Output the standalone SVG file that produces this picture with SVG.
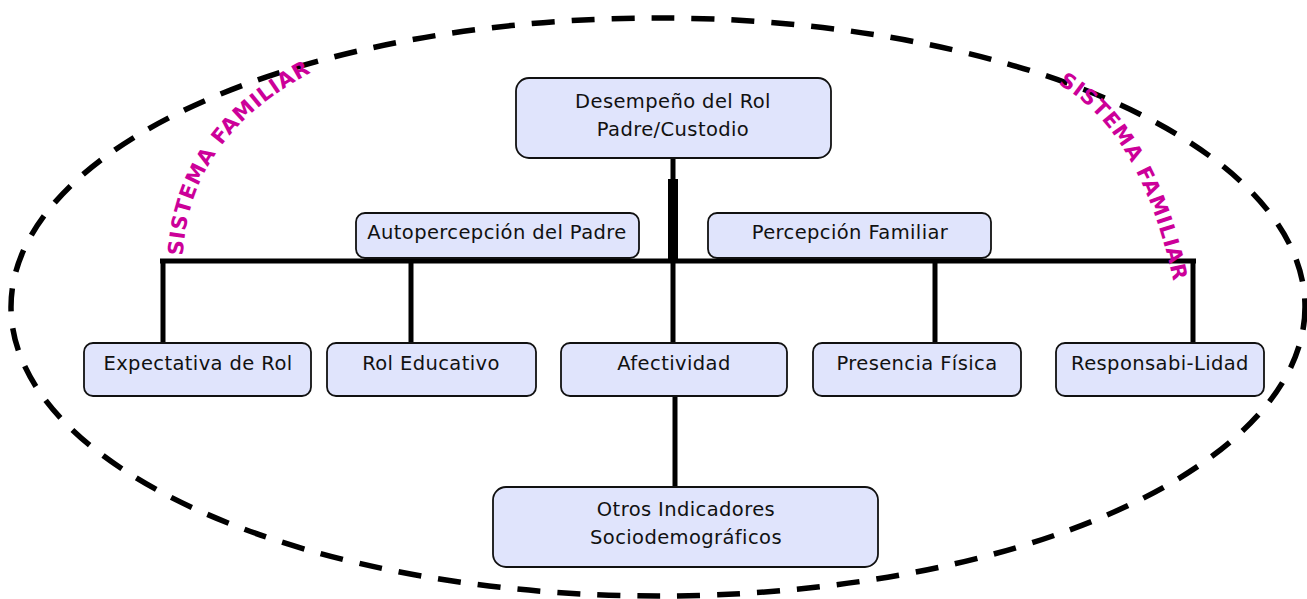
<svg xmlns="http://www.w3.org/2000/svg" width="1307" height="599" viewBox="0 0 1307 599">
<style>
.box{fill:#e0e4fc;stroke:#111;stroke-width:1.8}
.t{font-family:"DejaVu Sans",Verdana,sans-serif;font-size:19.5px;letter-spacing:0.4px;fill:#111;text-anchor:middle}
.c{stroke:#000;stroke-width:5;fill:none}
.sf{font-family:"DejaVu Sans",sans-serif;font-size:21px;font-weight:bold;letter-spacing:0.9px;fill:#cc0099}
</style>
<defs>
<path id="arcL" d="M183,256 Q188,137 314,71 L370,45"/>
<path id="arcR" d="M1058,84 Q1141,131 1174,284 L1177,330"/>
</defs>
<ellipse cx="658" cy="307" rx="647" ry="289" fill="none" stroke="#000" stroke-width="5.5" stroke-dasharray="23 17"/>
<g id="connectors">
<line class="c" x1="673" y1="158" x2="673" y2="182"/>
<line x1="673" y1="179" x2="673" y2="262" stroke="#000" stroke-width="10"/>
<line class="c" x1="160" y1="261" x2="1196" y2="261"/>
<line class="c" x1="163" y1="259" x2="163" y2="343"/>
<line class="c" x1="411" y1="261" x2="411" y2="343"/>
<line class="c" x1="673" y1="261" x2="673" y2="343"/>
<line class="c" x1="935" y1="261" x2="935" y2="343"/>
<line class="c" x1="1193" y1="259" x2="1193" y2="343"/>
<line class="c" x1="675" y1="396" x2="675" y2="487"/>
</g>
<g id="desempeno"><rect class="box" x="516" y="78" width="315" height="80" rx="13"/><text class="t" x="673" y="108">Desempeño del Rol</text><text class="t" x="673" y="136">Padre/Custodio</text></g>
<g id="autopercepcion"><rect class="box" x="356" y="213" width="283" height="45" rx="9"/><text class="t" x="497" y="239">Autopercepción del Padre</text></g>
<g id="percepcion"><rect class="box" x="708" y="213" width="283" height="45" rx="9"/><text class="t" x="850" y="239">Percepción Familiar</text></g>
<g id="expectativa"><rect class="box" x="84" y="343" width="227" height="53" rx="9"/><text class="t" x="198" y="370">Expectativa de Rol</text></g>
<g id="educativo"><rect class="box" x="327" y="343" width="209" height="53" rx="9"/><text class="t" x="431" y="370">Rol Educativo</text></g>
<g id="afectividad"><rect class="box" x="561" y="343" width="226" height="53" rx="9"/><text class="t" x="674" y="370">Afectividad</text></g>
<g id="presencia"><rect class="box" x="813" y="343" width="208" height="53" rx="9"/><text class="t" x="917" y="370">Presencia Física</text></g>
<g id="responsabilidad"><rect class="box" x="1056" y="343" width="208" height="53" rx="9"/><text class="t" x="1160" y="370">Responsabi-Lidad</text></g>
<g id="otros"><rect class="box" x="493" y="487" width="385" height="80" rx="13"/><text class="t" x="686" y="516">Otros Indicadores</text><text class="t" x="686" y="544">Sociodemográficos</text></g>
<g id="labels">
<text class="sf"><textPath href="#arcL">SISTEMA FAMILIAR</textPath></text>
<text class="sf"><textPath href="#arcR">SISTEMA FAMILIAR</textPath></text>
</g>
</svg>
